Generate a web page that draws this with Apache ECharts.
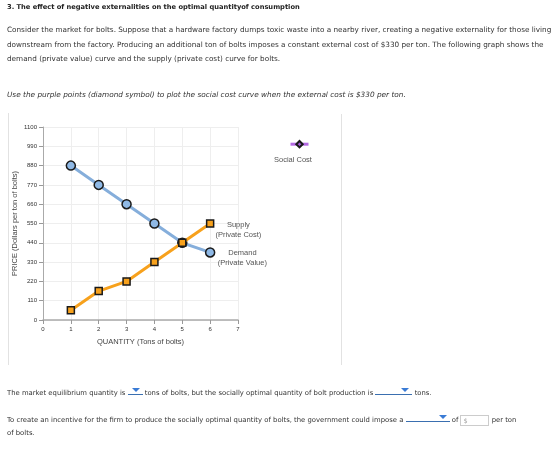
<!DOCTYPE html>
<html><head><meta charset="utf-8">
<script src="https://cdn.jsdelivr.net/npm/echarts@6/dist/echarts.min.js"></script>
<style>
html,body{margin:0;padding:0;background:#fff;width:560px;height:456px;overflow:hidden;}
#chart{position:absolute;left:0;top:0;width:560px;height:456px;}
.t{position:absolute;left:7px;font-family:"DejaVu Sans",Verdana,sans-serif;font-size:7.28px;color:#333;white-space:nowrap;line-height:9px;}
.b{font-weight:bold;color:#222;font-size:6.7px;}
.i{font-style:italic;font-size:7.33px;}
.s{font-size:6.85px;}
.dd{display:inline-block;border-bottom:1px solid #3a6fb0;position:relative;height:8px;vertical-align:baseline;}
.dd:after{content:"";position:absolute;right:3px;top:2px;border-left:4px solid transparent;border-right:4px solid transparent;border-top:4px solid #3a7bd5;}
.inp{display:inline-block;width:29px;height:11px;border:1px solid #ccc;vertical-align:middle;font-size:6.5px;color:#aaa;line-height:11px;padding-left:2px;box-sizing:border-box;}
.vl{position:absolute;width:1px;background:#e2e2e2;}
</style></head>
<body>
<div id="chart"></div>
<div class="vl" style="left:8px;top:113px;height:252px"></div>
<div class="vl" style="left:341px;top:114px;height:251px"></div>
<div class="t b" style="top:3px">3. The effect of negative externalities on the optimal quantityof consumption</div>
<div class="t" style="top:25px">Consider the market for bolts. Suppose that a hardware factory dumps toxic waste into a nearby river, creating a negative externality for those living</div>
<div class="t" style="top:40px">downstream from the factory. Producing an additional ton of bolts imposes a constant external cost of $330 per ton. The following graph shows the</div>
<div class="t" style="top:54px">demand (private value) curve and the supply (private cost) curve for bolts.</div>
<div class="t i" style="top:90px">Use the purple points (diamond symbol) to plot the social cost curve when the external cost is $330 per ton.</div>
<div class="t s" style="top:386px">The market equilibrium quantity is <span class="dd" style="width:15px"></span> tons of bolts, but the socially optimal quantity of bolt production is <span class="dd" style="width:37px"></span> tons.</div>
<div class="t s" style="top:413px">To create an incentive for the firm to produce the socially optimal quantity of bolts, the government could impose a <span class="dd" style="width:44px"></span> of <span class="inp">$</span> per ton</div>
<div class="t s" style="top:429px">of bolts.</div>
<script>
var quantities = [1, 2, 3, 4, 5, 6];
var demandValues = [880, 770, 660, 550, 440, 385];
var supplyValues = [55, 165, 220, 330, 440, 550];
var yTicks = [0, 110, 220, 330, 440, 550, 660, 770, 880, 990, 1100];
var xTicks = [0, 1, 2, 3, 4, 5, 6, 7];

function pairs(xs, ys){ return xs.map(function(x,i){ return [x, ys[i]]; }); }

var chart = echarts.init(document.getElementById('chart'), null, {renderer:'canvas'});
var ff = '"Liberation Sans", Arial, sans-serif';
chart.setOption({
  animation:false,
  grid:{left:43, right:322, top:127, bottom:136, containLabel:false},
  legend:{
    left:284, top:135, itemWidth:18, itemHeight:8, itemGap:0,
    data:[{name:'Social Cost'}],
    lineStyle:{width:3, color:'#b36ae2'},
    formatter:function(){return '';},
    textStyle:{fontSize:1}
  },
  graphic:[{
    type:'text', left:274, top:156,
    style:{text:'Social Cost', fill:'#555', font:'7.5px "Liberation Sans", Arial, sans-serif'}
  }],
  xAxis:{
    type:'value', min:0, max:7, interval:1,
    name:'QUANTITY (Tons of bolts)', nameLocation:'middle', nameGap:18,
    nameTextStyle:{fontFamily:ff, fontSize:7.5, color:'#444'},
    axisLine:{lineStyle:{color:'#aaa', width:1.5}},
    axisTick:{show:true, length:4, lineStyle:{color:'#999'}},
    axisLabel:{fontFamily:ff, fontSize:6, color:'#333', margin:6,
      formatter:function(v){ return xTicks.indexOf(v)>=0 ? String(v) : ''; }},
    splitLine:{show:true, lineStyle:{color:'#eee'}}
  },
  yAxis:{
    type:'value', min:0, max:1100, interval:110,
    name:'PRICE (Dollars per ton of bolts)', nameLocation:'middle', nameGap:24,
    nameTextStyle:{fontFamily:ff, fontSize:7.5, color:'#444'},
    axisLine:{show:true, lineStyle:{color:'#aaa', width:1}},
    axisTick:{show:true, length:4, lineStyle:{color:'#999'}},
    axisLabel:{fontFamily:ff, fontSize:6, color:'#333', margin:6,
      formatter:function(v){ return yTicks.indexOf(v)>=0 ? String(v) : ''; }},
    splitLine:{show:true, lineStyle:{color:'#eee'}}
  },
  series:[
    {
      name:'Demand', type:'line', data:pairs(quantities, demandValues),
      lineStyle:{color:'#85aedb', width:3},
      symbol:'circle', symbolSize:9,
      itemStyle:{color:'#8fb9e6', borderColor:'#1a1a1a', borderWidth:1.5},
      label:{show:true, formatter:function(p){ return p.dataIndex===quantities.length-1 ? 'Demand\n(Private Value)' : ''; },
        position:'right', align:'center', distance:4, offset:[23,5], fontFamily:ff, fontSize:7.5, color:'#555', lineHeight:10},
      z:2
    },
    {
      name:'Supply', type:'line', data:pairs(quantities, supplyValues),
      lineStyle:{color:'#f7a11c', width:3},
      symbol:'rect', symbolSize:7,
      itemStyle:{color:'#f7a11c', borderColor:'#1a1a1a', borderWidth:1.5},
      label:{show:true, formatter:function(p){ return p.dataIndex===quantities.length-1 ? 'Supply\n(Private Cost)' : ''; },
        position:'right', align:'center', distance:4, offset:[20,6], fontFamily:ff, fontSize:7.5, color:'#555', lineHeight:10},
      z:3
    },
    {
      name:'Social Cost', type:'line', data:[],
      symbol:'diamond', symbolSize:8,
      lineStyle:{color:'#b36ae2', width:3},
      itemStyle:{color:'#a259d9', borderColor:'#1a1a1a', borderWidth:1}
    }
  ]
});
</script>
</body></html>
